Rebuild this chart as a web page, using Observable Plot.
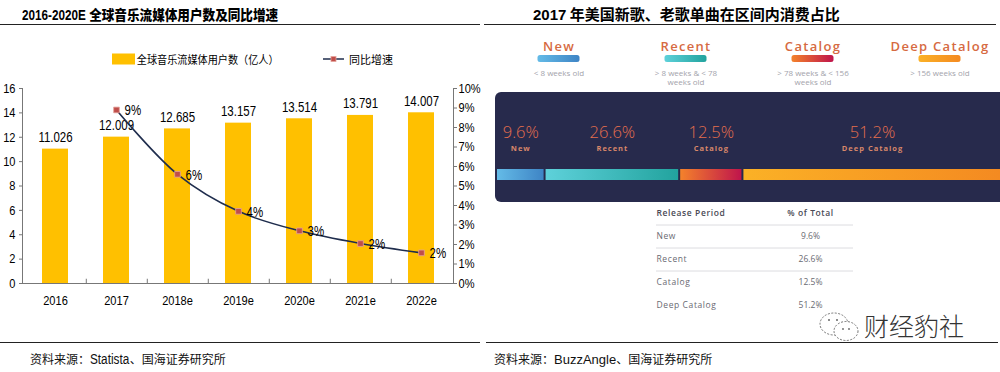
<!DOCTYPE html>
<html><head><meta charset="utf-8">
<script src="https://cdn.jsdelivr.net/npm/d3@7"></script>
<script src="https://cdn.jsdelivr.net/npm/@observablehq/plot@0.6"></script>
<style>
body{margin:0;background:#fff;}
#root{position:relative;width:1000px;height:372px;overflow:hidden;background:#fff;font-family:"Noto Sans CJK SC",sans-serif;color:#000;}
.abs{position:absolute;white-space:nowrap;}
.narrow{font-family:"Liberation Sans Narrow","Arial Narrow","Liberation Sans",sans-serif;display:inline-block;transform:scaleX(0.84);transform-origin:left center;}
.hr{position:absolute;height:0;border-top:1.6px solid #222;}
.hdr{letter-spacing:1.3px;}
.nm{letter-spacing:1px;}
.tb{letter-spacing:0.6px;}
</style></head><body>
<div id="root">
<svg width="0" height="0" style="position:absolute">
  <defs>
    <linearGradient id="g-0" x1="0" x2="1" y1="0" y2="0"><stop offset="0" stop-color="#64BBE7"/><stop offset="1" stop-color="#3E84C5"/></linearGradient>
    <linearGradient id="g-1" x1="0" x2="1" y1="0" y2="0"><stop offset="0" stop-color="#5ED1DA"/><stop offset="1" stop-color="#22A39E"/></linearGradient>
    <linearGradient id="g-2" x1="0" x2="1" y1="0" y2="0"><stop offset="0" stop-color="#F4822B"/><stop offset="1" stop-color="#BF144C"/></linearGradient>
    <linearGradient id="g-3" x1="0" x2="1" y1="0" y2="0"><stop offset="0" stop-color="#FBB126"/><stop offset="1" stop-color="#F48A21"/></linearGradient>
  </defs>
</svg>
</div>
<script>
// ---------------- data ----------------
const years = ["2016", "2017", "2018e", "2019e", "2020e", "2021e", "2022e"];
const users = [11.026, 12.009, 12.685, 13.157, 13.514, 13.791, 14.007];
const growthYears = ["2017", "2018e", "2019e", "2020e", "2021e", "2022e"];
const growth = [8.9, 5.6, 3.7, 2.7, 2.05, 1.57];
const growthLabels = ["9%", "6%", "4%", "3%", "2%", "2%"];
const yTicks = [0, 2, 4, 6, 8, 10, 12, 14, 16];
const pctTicks = [0, 1, 2, 3, 4, 5, 6, 7, 8, 9, 10];
const leftLegend = ["全球音乐流媒体用户数（亿人）", "同比增速"];
const leftTitle = ["2016-2020E", "全球音乐流媒体用户数及同比增速"];
const leftSource = ["资料来源：", "Statista", "、国海证券研究所"];

const periods = ["New", "Recent", "Catalog", "Deep Catalog"];
const shares = [9.6, 26.6, 12.5, 51.2];
const shareLabels = ["9.6%", "26.6%", "12.5%", "51.2%"];
const ageRanges = ["< 8 weeks old", "> 8 weeks & < 78\nweeks old", "> 78 weeks & < 156\nweeks old", "> 156 weeks old"];
const tableHeader = ["Release Period", "% of Total"];
const rightTitle = ["2017", "年美国新歌、老歌单曲在区间内消费占比"];
const rightSource = ["资料来源：", "BuzzAngle", "、国海证券研究所"];
const watermark = "财经豹社";

// ---------------- helpers ----------------
const root = document.getElementById("root");
const NARROW = '"Liberation Sans Narrow","Arial Narrow","Liberation Sans",sans-serif';
const LATIN = '"Open Sans","Lato",sans-serif';
function place(el, left, top) {
  el.style.position = "absolute"; el.style.left = left + "px"; el.style.top = top + "px";
  root.appendChild(el); return el;
}
function div(html, left, top, css) {
  const d = document.createElement("div");
  d.className = "abs"; d.innerHTML = html; d.style.cssText += css || "";
  return place(d, left, top);
}
function hr(left, top, width) {
  const d = document.createElement("div"); d.className = "hr";
  d.style.left = left + "px"; d.style.top = top + "px"; d.style.width = width + "px";
  root.appendChild(d);
}
// condense svg text horizontally around its own anchor point (no narrow face installed)
function condense(svg, k) {
  d3.select(svg).selectAll("text").each(function () {
    const x = parseFloat(this.getAttribute("x")) || 0;
    const t = this.getAttribute("transform") || "";
    this.setAttribute("transform", `${t} translate(${x},0) scale(${k},1) translate(${-x},0)`);
  });
}

// ---------------- titles, rules, sources ----------------
div(`<span class="narrow" style="font-weight:700;font-size:15.5px;margin-right:-13px">${leftTitle[0]}</span> <span style="font-weight:900">${leftTitle[1]}</span>`,
  22, 4, "font-size:14px;line-height:20px;transform:scaleX(0.9);transform-origin:left center;");
div(`<span style="font-family:'Liberation Sans',sans-serif">${rightTitle[0]}</span> ${rightTitle[1]}`,
  533, 4, "font-size:15px;font-weight:700;line-height:20px;");
hr(0, 24, 480); hr(484, 24, 512);
hr(0, 342, 480); hr(486, 342, 512);
div(`${leftSource[0]}<span class="narrow" style="font-size:14px;margin-right:-7px">${leftSource[1]}</span>${leftSource[2]}`,
  30, 349, "font-size:12px;line-height:20px;color:#111;");
div(`${rightSource[0]}<span style="font-family:'Liberation Sans',sans-serif;font-size:13px">${rightSource[1]}</span>${rightSource[2]}`,
  494, 349, "font-size:12px;line-height:20px;color:#111;");

// ---------------- left legend ----------------
div(`<svg width="26" height="12" style="vertical-align:middle"><rect x="0" y="0.5" width="25" height="11" fill="#FFC000"/></svg><span style="vertical-align:middle;margin-left:1px">${leftLegend[0]}</span>`,
  112, 47, "font-size:11px;line-height:20px;transform:scaleX(0.92);transform-origin:left center;");
div(`<svg width="22" height="12" style="vertical-align:middle"><line x1="0" x2="21" y1="6" y2="6" stroke="#1F2D4D" stroke-width="1.5"/><rect x="8" y="3.5" width="5" height="5" fill="#BF4E4A" stroke="#E5A29B" stroke-width="0.8"/></svg><span style="vertical-align:middle;margin-left:4px">${leftLegend[1]}</span>`,
  323, 47, "font-size:11px;line-height:20px;");

// ---------------- left chart ----------------
const ratio = 16 / 10;            // right axis 10% aligns with left axis 16
const step = (500 - 22 - 47) / years.length;
const barRows = years.map((year, i) => ({year, users: users[i]}));
const lineRows = growthYears.map((year, i) => ({year, growth: growth[i], label: growthLabels[i]}));
const left = Plot.plot({
  width: 500, height: 240,
  marginLeft: 22, marginRight: 47, marginTop: 18, marginBottom: 27,
  style: {fontFamily: NARROW, fontSize: "13px", color: "#000", background: "transparent", overflow: "visible"},
  x: {domain: years, paddingInner: 0.58, paddingOuter: 0.29, label: null},
  y: {domain: [0, 16], label: null},
  marks: [
    Plot.barY(barRows, {x: "year", y: "users", fill: "#FFC000"}),
    Plot.text(barRows, {x: "year", y: "users", text: d => d.users.toFixed(3), lineAnchor: "bottom", dy: -7, fontSize: 14, fill: "#000"}),
    Plot.frame({anchor: "left", stroke: "#777"}),
    Plot.frame({anchor: "right", stroke: "#777"}),
    Plot.frame({anchor: "bottom", stroke: "#777"}),
    Plot.axisY(yTicks, {anchor: "left", tickSize: 3, tickPadding: 4, label: null, stroke: "#777", fill: "#000", fontSize: 13.5}),
    Plot.axisY(pctTicks.map(p => p * ratio), {anchor: "right", tickSize: 3, tickPadding: 2, label: null, stroke: "#777", fill: "#000", fontSize: 13.5,
      tickFormat: v => Math.round(v / ratio) + "%"}),
    Plot.axisX({tickSize: 0, tickPadding: 12, label: null, fill: "#000", fontSize: 13.5}),
    Plot.ruleX(years.slice(0, -1), {x: d => d, y1: 0, y2: 0.35, dx: step / 2, stroke: "#777"}),
    Plot.line(lineRows, {x: "year", y: d => d.growth * ratio, curve: "catmull-rom", stroke: "#1F2D4D", strokeWidth: 1.6}),
    Plot.dot(lineRows, {x: "year", y: d => d.growth * ratio, symbol: "square", r: 3.2, fill: "#BF4E4A", stroke: "#E5A29B", strokeWidth: 0.8}),
    Plot.text(lineRows, {x: "year", y: d => d.growth * ratio, text: "label", textAnchor: "start", dx: 8, dy: 1, fontSize: 14, fill: "#000"})
  ]
});
place(left, 0, 70);
condense(left, 0.82);

// ---------------- right: header row ----------------
const header = Plot.plot({
  width: 516, height: 64, margin: 0, axis: null,
  style: {fontFamily: LATIN, background: "transparent", overflow: "visible"},
  x: {type: "band", domain: periods, range: [10, 519], padding: 0},
  marks: [
    Plot.text(periods, {x: d => d, text: d => d, frameAnchor: "top", dy: 13, fontSize: 13, fontWeight: 600, fill: "#D66A42", className: "hdr"}),
    Plot.cell(periods, {x: d => d, fill: (d, i) => `url(#g-${i})`, insetTop: 27, insetBottom: 30, insetLeft: 42.5, insetRight: 42.5, rx: 2.5}),
    Plot.text(periods, {x: d => d, text: (d, i) => ageRanges[i], frameAnchor: "top", lineAnchor: "top", dy: 40.5, lineHeight: 1.2, fontSize: 8, fill: "#A3A3AB"})
  ]
});
place(header, 484, 28);

// ---------------- right: dark panel with stacked bar ----------------
const shareRows = periods.map((period, i) => ({period, share: shares[i], label: shareLabels[i], idx: i}));
const panelWrap = document.createElement("div");
panelWrap.style.cssText = "width:505px;height:110px;background:#272A4C;border-radius:6px 0 0 6px;overflow:hidden;";
const panel = Plot.plot({
  width: 505, height: 110, margin: 0, axis: null,
  style: {fontFamily: LATIN, background: "transparent"},
  x: {domain: [0, 100], range: [1, 507]},
  marks: [
    Plot.barX(shareRows, Plot.stackX({x: "share", fill: d => `url(#g-${d.idx})`, insetTop: 77, insetBottom: 22, insetLeft: 1, insetRight: 1})),
    Plot.text(shareRows, Plot.stackX({x: "share", text: "label", frameAnchor: "top", dy: 34, fontSize: 16.5, fontWeight: 300, fill: "#E66F4D"})),
    Plot.text(shareRows, Plot.stackX({x: "share", text: "period", frameAnchor: "top", dy: 53.5, fontSize: 7.5, fontWeight: 700, fill: "#D9876A", className: "nm"}))
  ]
});
panelWrap.appendChild(panel);
place(panelWrap, 495, 92);

// ---------------- right: table ----------------
const tableRows = periods.map((period, i) => ({period, value: shareLabels[i]}));
const table = Plot.plot({
  width: 516, height: 115, marginLeft: 172, marginRight: 147, marginTop: 0, marginBottom: 0, axis: null,
  style: {fontFamily: LATIN, background: "transparent", overflow: "visible"},
  x: {type: "point", domain: ["period", "value"], range: [172, 326], padding: 0},
  y: {type: "point", domain: ["header", ...periods], range: [13, 105], padding: 0},
  marks: [
    Plot.ruleY(["header", "New", "Recent"], {y: d => d, dy: 11.5, stroke: "#DCDCE0", strokeWidth: 1}),
    Plot.text([tableHeader[0]], {x: () => "period", y: () => "header", text: d => d, textAnchor: "start", fontSize: 8.5, fontWeight: 600, fill: "#4A4A55", className: "tb"}),
    Plot.text([tableHeader[1]], {x: () => "value", y: () => "header", text: d => d, fontSize: 8.5, fontWeight: 600, fill: "#4A4A55", className: "tb"}),
    Plot.text(tableRows, {x: () => "period", y: "period", text: "period", textAnchor: "start", fontSize: 8.5, fill: "#6A6A72", className: "tb"}),
    Plot.text(tableRows, {x: () => "value", y: "period", text: "value", fontSize: 8.5, fill: "#6A6A72"})
  ]
});
place(table, 484, 200);

// ---------------- watermark ----------------
div(`<svg width="46" height="34" viewBox="0 0 46 34"><ellipse cx="16" cy="13" rx="14" ry="11" fill="none" stroke="#666" stroke-width="0.9" stroke-dasharray="2 1.5"/><ellipse cx="28" cy="20" rx="12" ry="9.5" fill="#fff" stroke="#666" stroke-width="0.9" stroke-dasharray="2 1.5"/><circle cx="11" cy="9" r="1" fill="#666"/><circle cx="19" cy="9" r="1" fill="#666"/><circle cx="25" cy="18" r="0.9" fill="#666"/><circle cx="31" cy="18" r="0.9" fill="#666"/></svg>`,
  818, 311, "");
div(watermark, 864, 309, "font-size:25px;font-weight:300;line-height:32px;color:#333;letter-spacing:0px;");
</script>
</body></html>
